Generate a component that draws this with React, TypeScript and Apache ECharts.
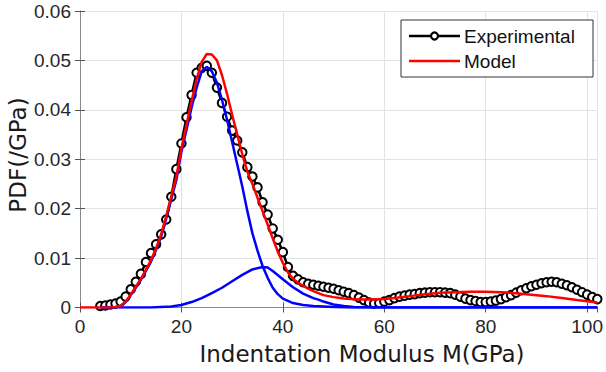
import React, { useEffect, useRef } from "react";
import * as echarts from "echarts";

// Experimental PDF points [modulus GPa, PDF]
const experimental: [number, number][] = [
  [4, 0.0003], [5, 0.0004], [6, 0.0006], [7, 0.0008], [8, 0.0012], [9, 0.0022],
  [10, 0.0037], [11, 0.0052], [12, 0.0068], [13, 0.0092], [14, 0.011], [15, 0.0128],
  [16, 0.0148], [17, 0.0178], [18, 0.0224], [19, 0.028], [20, 0.0332], [21, 0.0385],
  [22, 0.043], [23, 0.0475], [24, 0.0485], [25, 0.0489], [26, 0.0475], [27, 0.0445],
  [28, 0.0414], [29, 0.0386], [30, 0.0358], [31, 0.0338], [32, 0.0314], [33, 0.0284],
  [34, 0.0265], [35, 0.0243], [36, 0.0213], [37, 0.0188], [38, 0.016], [39, 0.0137],
  [40, 0.0112], [41, 0.0082], [42, 0.0064], [43, 0.0057], [44, 0.0051], [45, 0.0048],
  [46, 0.0046], [47, 0.0044], [48, 0.0042], [49, 0.004], [50, 0.0038], [51, 0.0035],
  [52, 0.0032], [53, 0.0029], [54, 0.0025], [55, 0.002], [56, 0.0015], [57, 0.001],
  [58, 0.0008], [59, 0.0009], [60, 0.0012], [61, 0.0015], [62, 0.0019], [63, 0.0022],
  [64, 0.0024], [65, 0.0026], [66, 0.0027], [67, 0.0029], [68, 0.003], [69, 0.0031],
  [70, 0.0031], [71, 0.0031], [72, 0.003], [73, 0.0029], [74, 0.0026], [75, 0.0022],
  [76, 0.0018], [77, 0.0015], [78, 0.0013], [79, 0.0011], [80, 0.0011], [81, 0.0012],
  [82, 0.0014], [83, 0.0017], [84, 0.0021], [85, 0.0025], [86, 0.003], [87, 0.0035],
  [88, 0.0039], [89, 0.0043], [90, 0.0046], [91, 0.0049], [92, 0.0051], [93, 0.0052],
  [94, 0.0051], [95, 0.0048], [96, 0.0045], [97, 0.0041], [98, 0.0036], [99, 0.0031],
  [100, 0.0026], [101, 0.0021], [102, 0.0017],
];

// Fitted model (sum of components)
const model: [number, number][] = [
  [0, 0], [2, 0], [4, 0], [6, 0], [7, 0.0001], [8, 0.0003], [9, 0.0012], [10, 0.0026],
  [11, 0.0042], [12, 0.0058], [13, 0.0076], [14, 0.0096], [15, 0.012], [16, 0.0148],
  [17, 0.0185], [18, 0.0225], [19, 0.0265], [20, 0.0322], [21, 0.037], [22, 0.0418],
  [23, 0.0462], [24, 0.0497], [25, 0.0513], [26, 0.0512], [27, 0.05], [28, 0.047],
  [29, 0.0432], [30, 0.039], [31, 0.035], [32, 0.031], [33, 0.0275], [34, 0.025],
  [35, 0.0222], [36, 0.0195], [37, 0.0168], [38, 0.014], [39, 0.0113], [40, 0.009],
  [41, 0.0071], [42, 0.0058], [43, 0.005], [44, 0.0044], [45, 0.0038], [46, 0.0033],
  [47, 0.0029], [48, 0.0025], [50, 0.0021], [52, 0.0018], [55, 0.0016], [58, 0.0016],
  [60, 0.0017], [62, 0.0019], [65, 0.0023], [68, 0.0027], [71, 0.003], [74, 0.0031],
  [77, 0.0032], [80, 0.0032], [83, 0.0031], [86, 0.0029], [89, 0.0026], [92, 0.0023],
  [95, 0.0019], [98, 0.0015], [102, 0.001],
];

// Component 1 (main phase)
const component1: [number, number][] = [
  [4, 0], [6, 0], [7, 0.0001], [8, 0.0003], [9, 0.0011], [10, 0.0025], [11, 0.004],
  [12, 0.0056], [13, 0.0074], [14, 0.0093], [15, 0.0117], [16, 0.0144], [17, 0.018],
  [18, 0.0219], [19, 0.0258], [20, 0.0315], [21, 0.036], [22, 0.0405], [23, 0.0445],
  [24, 0.0478], [25, 0.0487], [26, 0.0478], [27, 0.0455], [28, 0.042], [29, 0.038],
  [30, 0.0335], [31, 0.029], [32, 0.0245], [33, 0.0195], [34, 0.015], [35, 0.0115],
  [36, 0.0084], [37, 0.006], [38, 0.004], [39, 0.0027], [40, 0.0018], [42, 0.0009],
  [44, 0.0005], [46, 0.0003], [48, 0.0002], [50, 0.0001], [53, 0], [60, 0], [70, 0],
  [80, 0], [90, 0], [102, 0],
];

// Component 2 (secondary phase)
const component2: [number, number][] = [
  [4, 0], [10, 0], [14, 0], [18, 0.0002], [20, 0.0005], [22, 0.0011], [24, 0.0019],
  [26, 0.0029], [28, 0.004], [30, 0.0053], [32, 0.0066], [34, 0.0077], [36, 0.0082],
  [37, 0.0081], [38, 0.0074], [40, 0.0057], [42, 0.0041], [44, 0.0028], [46, 0.0019],
  [47, 0.0016], [48, 0.0012], [50, 0.0006], [52, 0.0003], [54, 0.0001], [58, 0],
  [70, 0], [80, 0], [90, 0], [102, 0],
];

const xTicks = [0, 20, 40, 60, 80, 100];
const yTicks = [0, 0.01, 0.02, 0.03, 0.04, 0.05, 0.06];
const legendNames = ["Experimental", "Model"];

const TICK_FONT = "'Liberation Sans', Arial, sans-serif";
const TITLE_FONT = "'DejaVu Sans', sans-serif";

export default function App() {
  const ref = useRef<HTMLDivElement>(null);
  useEffect(() => {
    if (!ref.current) return;
    const chart = echarts.init(ref.current, undefined, { renderer: "svg" });
    const axisLine = { show: true, lineStyle: { color: "#8a8a8a", width: 1 } };
    const tickStyle = { show: true, inside: true, length: 5, lineStyle: { color: "#555", width: 1 } };
    chart.setOption({
      animation: false,
      backgroundColor: "#fff",
      grid: { left: 80, right: 6, top: 11, bottom: 64.5, containLabel: false },
      xAxis: [
        {
          type: "value", min: xTicks[0], max: 102, interval: 20,
          axisLine, axisTick: tickStyle,
          axisLabel: { color: "#262626", fontSize: 19, fontFamily: TICK_FONT, margin: 9, showMaxLabel: false },
          splitLine: { show: true, lineStyle: { color: "#e3e3e3", width: 1 } },
        },
        {
          type: "value", min: xTicks[0], max: 102, interval: 20, position: "top",
          axisLine, axisTick: tickStyle, axisLabel: { show: false }, splitLine: { show: false },
        },
      ],
      yAxis: [
        {
          type: "value", min: yTicks[0], max: yTicks[yTicks.length - 1], interval: 0.01,
          axisLine, axisTick: tickStyle,
          axisLabel: {
            color: "#262626", fontSize: 19, fontFamily: TICK_FONT, margin: 9,
            formatter: (v: number) => (v === 0 ? "0" : v.toFixed(2)),
          },
          splitLine: { show: true, lineStyle: { color: "#e3e3e3", width: 1 } },
        },
        {
          type: "value", min: yTicks[0], max: yTicks[yTicks.length - 1], interval: 0.01, position: "right",
          axisLine, axisTick: tickStyle, axisLabel: { show: false }, splitLine: { show: false },
        },
      ],
      graphic: [
        {
          type: "rect", z: 5,
          shape: { x: 401, y: 20, width: 192, height: 57 },
          style: { fill: "#fff", stroke: "#333", lineWidth: 1 },
        },
        {
          type: "line", z: 6,
          shape: { x1: 409, y1: 36, x2: 460, y2: 36 },
          style: { stroke: "#000", lineWidth: 2.5 },
        },
        {
          type: "circle", z: 7,
          shape: { cx: 434.5, cy: 36, r: 3.5 },
          style: { fill: "#fff", stroke: "#000", lineWidth: 2.2 },
        },
        {
          type: "text", z: 7, x: 464, y: 36,
          style: { text: legendNames[0], fontSize: 19, fontFamily: TICK_FONT, fill: "#111", textVerticalAlign: "middle" },
        },
        {
          type: "line", z: 6,
          shape: { x1: 409, y1: 61, x2: 460, y2: 61 },
          style: { stroke: "#ff0000", lineWidth: 2.5 },
        },
        {
          type: "text", z: 7, x: 464, y: 61,
          style: { text: legendNames[1], fontSize: 19, fontFamily: TICK_FONT, fill: "#111", textVerticalAlign: "middle" },
        },
        {
          type: "text", z: 10, x: 362, y: 354,
          style: {
            text: "Indentation Modulus M(GPa)", fontSize: 23, fontFamily: TITLE_FONT, fill: "#1a1a1a",
            textAlign: "center", textVerticalAlign: "middle",
          },
        },
        {
          type: "text", x: 18, y: 155, rotation: Math.PI / 2, z: 10,
          style: {
            text: "PDF(/GPa)", fontSize: 23, fontFamily: TITLE_FONT, fill: "#1a1a1a",
            textAlign: "center", textVerticalAlign: "middle",
          },
        },
      ],
      series: [
        {
          name: "Experimental", type: "line", data: experimental, z: 2,
          symbol: "emptyCircle", symbolSize: 8.5, showAllSymbol: true,
          lineStyle: { color: "#000", width: 2.5 },
          itemStyle: { color: "#000", borderWidth: 2.5 },
        },
        {
          name: "Component 1", type: "line", data: component1, z: 3, symbol: "none",
          lineStyle: { color: "#0000ff", width: 2.5 },
        },
        {
          name: "Component 2", type: "line", data: component2, z: 3, symbol: "none",
          lineStyle: { color: "#0000ff", width: 2.5 },
        },
        {
          name: "Model", type: "line", data: model, z: 4, symbol: "none",
          lineStyle: { color: "#ff0000", width: 2.5 },
        },
      ],
    });
    return () => chart.dispose();
  }, []);
  return <div ref={ref} style={{ width: 606, height: 372, position: "absolute", left: 0, top: 0 }} />;
}
